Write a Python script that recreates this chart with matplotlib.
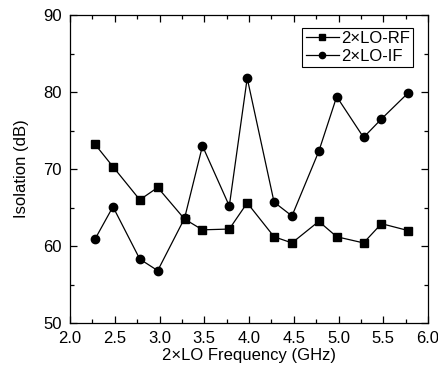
import numpy as np
import matplotlib
matplotlib.use("Agg")
import matplotlib.pyplot as plt
from matplotlib.legend_handler import HandlerLine2D
from matplotlib.ticker import MultipleLocator

plt.rcParams['font.family'] = ['Liberation Sans', 'DejaVu Sans']
plt.rcParams['font.size'] = 12

freq = [2.28, 2.48, 2.78, 2.98, 3.28, 3.48, 3.78, 3.98,
        4.28, 4.48, 4.78, 4.98, 5.28, 5.48, 5.78]
lo_rf = [73.2, 70.3, 66.0, 67.6, 63.5, 62.1, 62.2, 65.6,
         61.2, 60.4, 63.2, 61.2, 60.4, 62.9, 62.0]
lo_if = [60.9, 65.1, 58.3, 56.8, 63.6, 73.0, 65.2, 81.8,
         65.7, 63.9, 72.3, 79.4, 74.1, 76.5, 79.9]
xticks = [2.0, 2.5, 3.0, 3.5, 4.0, 4.5, 5.0, 5.5, 6.0]
yticks = [50, 60, 70, 80, 90]


class MarkerAtEnd(HandlerLine2D):
    # put the legend marker near the right end of the line sample
    def get_xdata(self, legend, xdescent, ydescent, width, height, fontsize):
        xdata = np.array([-xdescent, -xdescent + width])
        return xdata, np.array([-xdescent + width * 0.88])


fig = plt.figure(figsize=(4.38, 3.73), dpi=100)
ax = fig.add_axes([70 / 438, 50 / 373, 358 / 438, 308 / 373])

ax.plot(freq, lo_rf, color='black', lw=0.9, marker='s', ms=5.5, label='2×LO-RF')
ax.plot(freq, lo_if, color='black', lw=0.9, marker='o', ms=6, label='2×LO-IF')

ax.set_xlim(2.0, 6.0)
ax.set_ylim(50, 90)
ax.set_xticks(xticks)
ax.set_yticks(yticks)
ax.set_xticklabels([f'{t:.1f}' for t in xticks])
ax.xaxis.set_minor_locator(MultipleLocator(0.25))
ax.yaxis.set_minor_locator(MultipleLocator(5))
ax.tick_params(which='both', direction='in', top=True, right=True,
               labelsize=12, colors='black')
ax.tick_params(which='major', length=5, width=0.9)
ax.tick_params(which='minor', length=3, width=0.9)
ax.tick_params(axis='x', which='major', pad=6)
ax.tick_params(axis='y', which='major', pad=6)
for s in ax.spines.values():
    s.set_linewidth(0.9)

ax.set_xlabel('2×LO Frequency (GHz)', fontsize=12, labelpad=1)
ax.set_ylabel('Isolation (dB)', fontsize=12, labelpad=10)

leg = ax.legend(loc='upper right', fancybox=False, edgecolor='black',
                framealpha=1, numpoints=1, handlelength=2.0, handletextpad=0.1,
                borderpad=0.2, labelspacing=0.15, fontsize=12,
                markerscale=0.75, borderaxespad=0,
                bbox_to_anchor=(0.958, 0.958),
                handler_map={plt.Line2D: MarkerAtEnd()})
leg.get_frame().set_linewidth(0.8)

fig.savefig('out.png', dpi=100)
